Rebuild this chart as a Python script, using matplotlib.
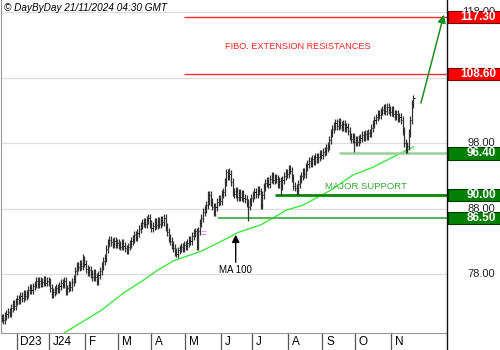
import numpy as np
import pandas as pd
import matplotlib
matplotlib.use("Agg")
import matplotlib.pyplot as plt
from matplotlib.patches import Rectangle
from matplotlib.transforms import blended_transform_factory

plt.rcParams["font.family"] = ["Liberation Sans", "DejaVu Sans"]

# daily closes, first bar 17 Nov 2023
closes = [
    71.3, 71.0, 71.6, 71.9, 72.2, 72.0, 72.8,
    73.4, 73.1, 73.8, 74.2,
    74.0, 74.6, 74.4, 74.9, 74.6, 75.0,
    75.6, 75.9, 75.5, 76.1, 76.4,
    76.9, 76.5, 77.0, 76.6, 76.8, 77.1, 76.7, 77.0, 76.8,
    75.9, 75.0, 75.3, 75.5,
    75.9, 75.7, 76.2, 76.6, 76.4, 77.0,
    75.4,
    75.8, 76.3, 76.0, 76.8, 77.2, 78.4,
    79.3, 79.0, 79.6, 79.2, 80.2, 79.6,
    78.8, 78.3, 78.6, 78.0, 77.6, 78.2, 77.5, 77.0,
    77.8, 78.5, 79.2, 80.0, 80.4, 81.8, 82.8,
    83.2, 82.9, 82.6, 83.0, 82.5, 82.8, 82.4, 82.2, 82.7, 82.3,
    81.9, 81.7, 82.2, 82.6, 83.0,
    83.4, 83.9, 83.7, 84.3, 84.9, 85.4, 85.8, 86.0,
    85.6, 86.3, 86.5, 85.7, 85.0,
    85.3, 85.9, 85.5, 86.1, 85.7, 86.3, 85.9, 86.5,
    85.2, 84.4, 83.5, 83.0, 82.4, 82.0, 81.3, 81.0,
    81.6, 81.9, 82.2, 82.0, 82.5, 82.3, 82.7,
    83.2, 83.0, 83.8, 84.2, 84.5,
    82.2,
    84.6, 85.8, 86.5, 87.5, 87.9, 88.5,
    89.2, 90.0,
    89.0, 88.3, 87.5,
    88.2, 89.0, 89.5, 89.2, 90.2, 90.5,
    92.0, 93.5, 93.0, 93.3,
    92.0, 90.5,
    90.2, 90.7, 89.8, 90.4, 89.8, 90.2, 89.6, 89.5,
    88.9, 88.3,
    89.0, 89.6, 90.0, 90.5, 90.2, 90.8, 90.6,
    88.5,
    90.0, 91.3, 91.9, 92.2, 91.8, 92.5,
    92.9, 92.3, 92.7, 92.5, 91.8, 92.2, 91.5,
    92.4, 93.0, 93.5, 93.2, 94.0, 93.8,
    92.6, 91.5, 91.2, 90.8,
    91.7, 92.5, 93.0, 93.6, 93.3, 94.3, 94.8,
    95.2, 95.0, 95.6, 95.3, 95.9, 95.6, 95.8,
    96.3, 96.1, 96.6, 96.8, 97.2, 97.5,
    98.5, 99.5, 100.2, 100.6, 101.0,
    100.6, 101.2, 100.8, 100.4, 100.9, 100.3, 100.5,
    99.8, 99.0, 98.6, 98.9, 98.2,
    98.5, 98.1, 98.6, 98.8,
    99.2, 98.9, 99.4, 99.1, 99.6, 99.5,
    100.3, 100.9, 101.5, 101.9, 102.4, 102.2, 102.8, 103.0,
    103.3, 102.9, 103.5,
    103.1, 102.7, 103.0, 102.5, 102.1, 102.4, 101.8, 102.0, 101.5,
    99.8, 98.0, 97.0,
    97.5, 99.5, 101.5, 104.0, 104.8,
]

# long wicks (bar number -> price)
wick_highs = {52: 81.0, 104: 87.2, 132: 90.6, 146: 94.2, 247: 104.1, 264: 105.3}
wick_lows = {61: 76.3, 112: 80.6, 125: 81.7, 158: 86.1, 166: 88.0,
             179: 90.1, 189: 90.1, 226: 96.6, 259: 96.4}

# 100-day moving average, read as (bar number, value)
ma_bar = [36, 40, 64, 78, 91, 100, 110, 128, 145, 151, 166, 183, 193, 211,
          225, 238, 257, 264]
ma_val = [68.4, 69.0, 72.5, 75.1, 77.1, 78.6, 80.0, 81.5, 83.5, 84.3, 85.5,
          87.8, 88.5, 90.8, 93.1, 94.3, 96.6, 97.4]

grid_levels = [78, 88, 98, 108, 118]
resistances = [117.30, 108.60]
supports = [96.40, 90.00, 86.50]
month_labels = ["D23", "J24", "F", "M", "A", "M", "J", "J", "A", "S", "O", "N"]

dates = pd.bdate_range("2023-11-17", periods=len(closes))
n_slots = 285.5  # bars + empty space on the right

fig = plt.figure(figsize=(5, 3.5), dpi=100)
ax = fig.add_axes([0.002, 17 / 350, 446 / 500, 333 / 350])
ax.set_xlim(-0.5, n_slots)
ax.set_ylim(69.0, 119.83)
ax.set_xticks([])
ax.set_yticks([])
ax.spines["top"].set_visible(False)
ax.spines["right"].set_visible(False)
ax.spines["left"].set_color("#999999")
ax.spines["bottom"].set_color("#999999")

for lv in grid_levels:
    ax.axhline(lv, color="#dddddd", lw=0.9, zorder=0)

# price bars
x = np.arange(len(closes))
c = np.array(closes)
o = np.r_[c[0], c[:-1]]
hi = np.maximum(o, c) + 0.6
lo = np.minimum(o, c) - 0.6
for k, v in wick_highs.items():
    hi[k] = v
for k, v in wick_lows.items():
    lo[k] = v
ax.vlines(x, lo, hi, color="#333333", lw=0.9, zorder=3)
ax.hlines(c, x, x + 0.7, color="#111111", lw=0.7, zorder=3)

# moving average
ax.plot(ma_bar, ma_val, color="#3fe83f", lw=1.0, zorder=2)

# levels
ax.hlines(resistances, 117, n_slots, color="#ff2a2a", lw=1.0, zorder=2)
ax.hlines(96.40, 216.5, n_slots, color="#94d394", lw=1.8, zorder=2)
ax.hlines(90.00, 175, n_slots, color="#078807", lw=2.0, zorder=2)
ax.hlines(86.50, 138.6, n_slots, color="#45b045", lw=1.3, zorder=2)

ax.text(189.7, 112.7, "FIBO. EXTENSION RESISTANCES", color="#ff2020",
        fontsize=6.6, ha="center", va="center")
ax.text(233.7, 91.3, "MAJOR SUPPORT", color="#35a835", fontsize=6.8,
        ha="center", va="center")
ax.text(150, 78.6, "MA 100", color="black", fontsize=7, ha="center", va="center")
ax.text(129.6, 84.1, "=", color="#ff66dd", fontsize=7, ha="center", va="center")

ax.annotate("", xy=(150, 84.0), xytext=(150, 79.8),
            arrowprops=dict(arrowstyle="-|>", color="black", lw=1.0,
                            mutation_scale=11, shrinkA=0, shrinkB=0))
ax.annotate("", xy=(283.5, 117.6), xytext=(268.8, 104.1),
            arrowprops=dict(arrowstyle="-|>", color="#1e8e1e", lw=1.1,
                            mutation_scale=12, shrinkA=0, shrinkB=0),
            annotation_clip=False)

# right-hand price scale
tr = blended_transform_factory(fig.transFigure, ax.transData)
for lv in grid_levels:
    ax.text(0.99, lv, f"{lv:.2f}", transform=tr, ha="right", va="center",
            fontsize=8, color="#222222", clip_on=False)

def level_box(val, face, edge):
    ax.add_patch(Rectangle((448 / 500, val - 0.92), 52 / 500, 1.84, transform=tr,
                           facecolor=face, edgecolor=edge, lw=0.8,
                           clip_on=False, zorder=5))
    ax.text(0.992, val, f"{val:.2f}", transform=tr, ha="right", va="center",
            fontsize=8.5, fontweight="bold", color="white", clip_on=False,
            zorder=6)

for r in resistances:
    level_box(r, "#ff0000", "#7a0000")
for s in supports:
    level_box(s, "#008000", "#003a00")

# right border down to the bottom
fig.add_artist(plt.Line2D([447 / 500, 447 / 500], [0, 1], transform=fig.transFigure,
                          color="#111111", lw=1.0))

# month strip
trx = blended_transform_factory(ax.transData, fig.transFigure)
month_start = [i for i in range(1, len(dates)) if dates[i].month != dates[i - 1].month]
for i, lab in zip(month_start, month_labels):
    ax.plot([i - 0.5, i - 0.5], [0, 17 / 350], transform=trx, color="#555555",
            lw=0.9, clip_on=False)
    ax.text(i + 2.0, 8 / 350, lab, transform=trx, ha="left", va="center",
            fontsize=8.5, color="black", clip_on=False)

fig.text(0.008, 0.977, "\u00a9 DayByDay 21/11/2024 04:30 GMT", fontsize=7.2,
         style="italic", ha="left", va="center")

fig.savefig("out.png", dpi=100)
